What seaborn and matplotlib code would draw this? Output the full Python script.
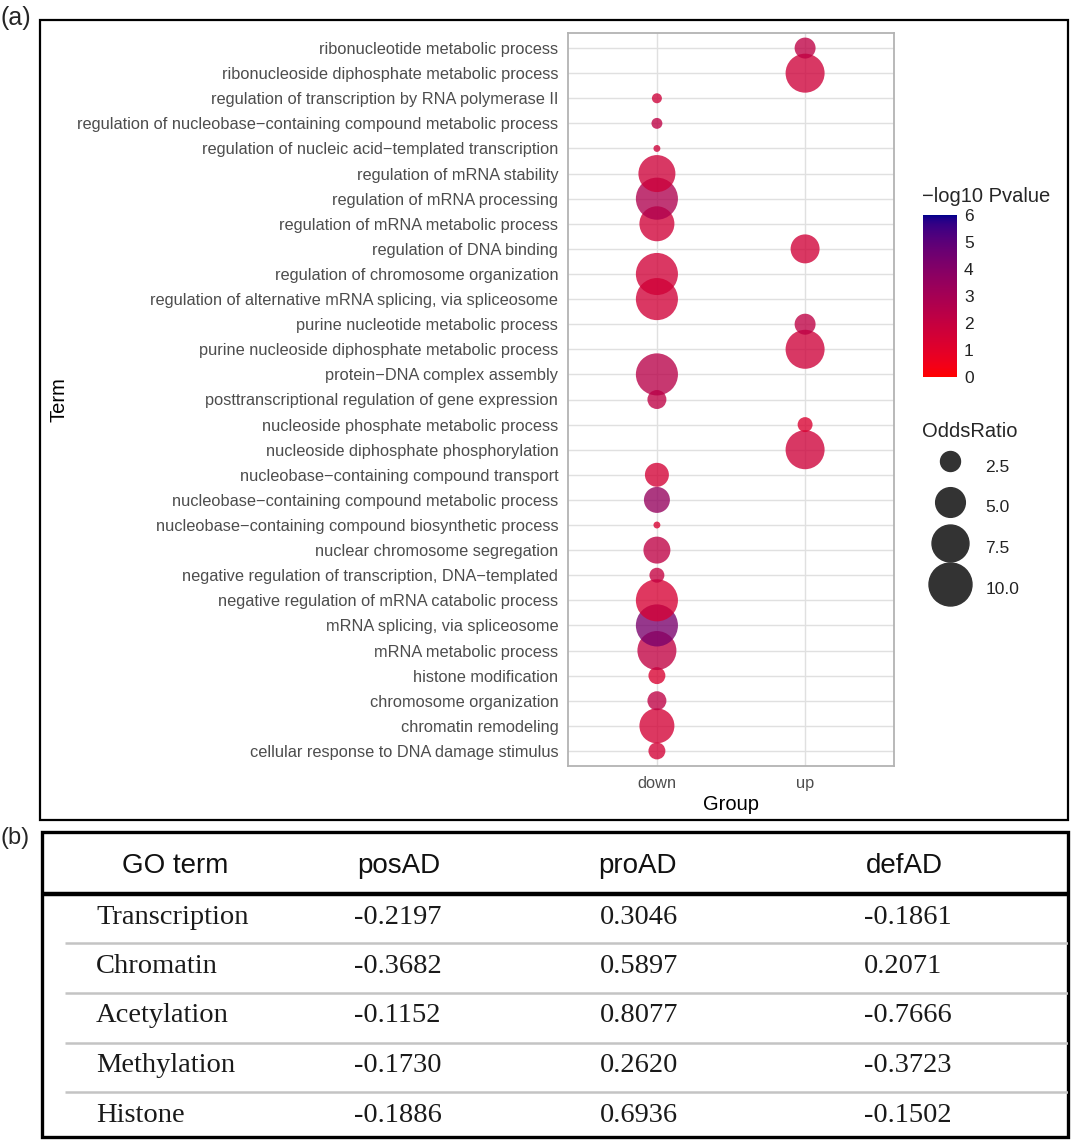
import numpy as np
import pandas as pd
import matplotlib
matplotlib.use("Agg")
import matplotlib.pyplot as plt
import matplotlib.colors as mcolors
from matplotlib.lines import Line2D
from matplotlib.patches import Rectangle
import seaborn as sns

# ---- data (panel a), listed bottom -> top ----
terms = [
    "cellular response to DNA damage stimulus",
    "chromatin remodeling",
    "chromosome organization",
    "histone modification",
    "mRNA metabolic process",
    "mRNA splicing, via spliceosome",
    "negative regulation of mRNA catabolic process",
    "negative regulation of transcription, DNA\u2212templated",
    "nuclear chromosome segregation",
    "nucleobase\u2212containing compound biosynthetic process",
    "nucleobase\u2212containing compound metabolic process",
    "nucleobase\u2212containing compound transport",
    "nucleoside diphosphate phosphorylation",
    "nucleoside phosphate metabolic process",
    "posttranscriptional regulation of gene expression",
    "protein\u2212DNA complex assembly",
    "purine nucleoside diphosphate metabolic process",
    "purine nucleotide metabolic process",
    "regulation of alternative mRNA splicing, via spliceosome",
    "regulation of chromosome organization",
    "regulation of DNA binding",
    "regulation of mRNA metabolic process",
    "regulation of mRNA processing",
    "regulation of mRNA stability",
    "regulation of nucleic acid\u2212templated transcription",
    "regulation of nucleobase\u2212containing compound metabolic process",
    "regulation of transcription by RNA polymerase II",
    "ribonucleoside diphosphate metabolic process",
    "ribonucleotide metabolic process",
]
groups = ["down", "down", "down", "down", "down", "down", "down", "down",
          "down", "down", "down", "down", "up", "up", "down", "down",
          "up", "up", "down", "down", "up", "down", "down", "down",
          "down", "down", "down", "up", "up"]
odds_ratio = [1.92, 6.77, 2.30, 1.92, 8.31, 9.60, 9.60, 1.59,
              4.20, 0.68, 3.93, 3.41, 8.31, 1.59, 2.30, 9.60,
              8.31, 2.71, 9.60, 9.60, 4.78, 6.77, 9.60, 7.52,
              0.68, 1.05, 0.95, 8.31, 2.71]
neg_log_p = [1.5, 1.5, 2.2, 1.3, 2.1, 4.3, 1.4, 2.0,
             2.2, 1.3, 3.5, 1.5, 1.7, 1.3, 2.2, 2.4,
             1.7, 2.2, 1.6, 1.6, 1.6, 1.6, 2.7, 1.7,
             1.7, 2.2, 1.7, 1.7, 2.2]

size_breaks = [2.5, 5.0, 7.5, 10.0]
color_ticks = [0, 1, 2, 3, 4, 5, 6]

# ---- data (panel b) ----
go_terms = ["Transcription", "Chromatin", "Acetylation", "Methylation", "Histone"]
pos_ad = ["-0.2197", "-0.3682", "-0.1152", "-0.1730", "-0.1886"]
pro_ad = ["0.3046", "0.5897", "0.8077", "0.2620", "0.6936"]
def_ad = ["-0.1861", "0.2071", "-0.7666", "-0.3723", "-0.1502"]
table_header = ["GO term", "posAD", "proAD", "defAD"]

df = pd.DataFrame({"Term": terms, "Group": groups,
                   "OddsRatio": odds_ratio, "logP": neg_log_p})

# ggplot style red -> darkblue gradient, interpolated in Lab
M = np.array([[0.4124, 0.3576, 0.1805],
              [0.2126, 0.7152, 0.0722],
              [0.0193, 0.1192, 0.9505]])
WHITE = np.array([0.95047, 1.0, 1.08883])


def to_lab(rgb):
    c = np.asarray(rgb, float)
    c = np.where(c > 0.04045, ((c + 0.055) / 1.055) ** 2.4, c / 12.92)
    xyz = M @ c / WHITE
    f = np.where(xyz > 0.008856, np.cbrt(xyz), 7.787 * xyz + 16 / 116)
    return np.array([116 * f[1] - 16, 500 * (f[0] - f[1]), 200 * (f[1] - f[2])])


def from_lab(lab):
    L, a, b = lab
    fy = (L + 16) / 116
    f = np.array([fy + a / 500, fy, fy - b / 200])
    xyz = np.where(f ** 3 > 0.008856, f ** 3, (f - 16 / 116) / 7.787) * WHITE
    c = np.linalg.inv(M) @ xyz
    c = np.clip(c, 0, None)
    c = np.where(c > 0.0031308, 1.055 * c ** (1 / 2.4) - 0.055, 12.92 * c)
    return np.clip(c, 0, 1)


lo, hi = to_lab(mcolors.to_rgb("red")), to_lab(mcolors.to_rgb("#00008B"))
cmap = mcolors.ListedColormap([from_lab(lo + t * (hi - lo)) for t in np.linspace(0, 1, 256)])
norm = mcolors.Normalize(0, 6)

# size scale: marker area (pt^2) linear in odds ratio, shared with the legend
AREA_PER_UNIT = (958.0 - 207.0) / 7.5
AREA_AT_2_5 = 207.0


def marker_area(v):
    return AREA_AT_2_5 + (v - 2.5) * AREA_PER_UNIT


size_norm = (0.6, 10.0)
size_range = (marker_area(size_norm[0]), marker_area(size_norm[1]))

sns.set_style("whitegrid")
plt.rcParams['font.family'] = ['Liberation Sans', 'DejaVu Sans']

W, H = 1072, 1140
fig = plt.figure(figsize=(W / 100, H / 100), dpi=100)


def fx(px):
    return px / W


def fy(py):
    return 1 - py / H


ax = fig.add_axes([fx(568), fy(766), fx(894) - fx(568), (766 - 33) / H])
sns.scatterplot(data=df, x="Group", y="Term", hue="logP", size="OddsRatio",
                palette=cmap, hue_norm=norm, sizes=size_range, size_norm=size_norm,
                alpha=0.78, linewidth=0, legend=False, ax=ax, zorder=3)
ax.set_xlim(-0.6, 1.6)
ax.set_ylim(-0.6, len(terms) - 0.4)
ax.set_facecolor("white")
for s in ax.spines.values():
    s.set_color("#B3B3B3")
    s.set_linewidth(1.3)
ax.grid(True, color="#E0E0E0", linewidth=1.0)
ax.set_axisbelow(True)
ax.tick_params(axis="both", length=4, width=1, color="#B3B3B3",
               labelcolor="#4D4D4D", labelsize=11.8, pad=3)
ax.set_xlabel("Group", fontsize=14.5, color="black", labelpad=3)
ax.set_ylabel("Term", fontsize=14.5, color="black", labelpad=6)

# colour bar
cax = fig.add_axes([fx(923), fy(377), fx(957) - fx(923), (377 - 215) / H])
sm = plt.cm.ScalarMappable(cmap=cmap, norm=norm)
cb = fig.colorbar(sm, cax=cax, ticks=color_ticks)
cb.outline.set_visible(False)
cax.tick_params(axis="y", direction="in", length=6, width=1, color="white",
                left=True, right=True, labelleft=False, labelright=True,
                labelsize=12.5, labelcolor="#222222", pad=5)
fig.text(fx(922), fy(197), "\u2212log10 Pvalue", ha="left", va="center", fontsize=14.5)

# size legend
handles = [Line2D([], [], marker="o", linestyle="", color="#333333",
                  markersize=np.sqrt(marker_area(v))) for v in size_breaks]
leg = fig.legend(handles, [f"{v:.1f}" for v in size_breaks], title="OddsRatio",
                 loc="upper left", bbox_to_anchor=(fx(915), fy(415)),
                 frameon=False, fontsize=12.5, title_fontsize=14.5,
                 handlelength=3.2, handleheight=2.4, handletextpad=0.45,
                 labelspacing=0.55, borderaxespad=0, alignment="left")
for t in leg.get_texts():
    t.set_color("#222222")

# panel frame and labels
fig.add_artist(Rectangle((fx(40), fy(820)), fx(1068) - fx(40), (820 - 20) / H,
                         transform=fig.transFigure, fill=False, ec="black", lw=1.6))
fig.text(fx(1), fy(18), "(a)", ha="left", va="center", fontsize=18)
fig.text(fx(0), fy(838), "(b)", ha="left", va="center", fontsize=17)

# ---- panel b: table ----
tax = fig.add_axes([fx(42), fy(1137), fx(1068) - fx(42), (1137 - 832) / H])
tax.set_xlim(0, 1026)
tax.set_ylim(305, 0)
tax.axis("off")
tax.add_patch(Rectangle((0, 0), 1026, 305, fill=False, ec="black", lw=2.4, clip_on=False))
tax.plot([0, 1026], [62, 62], color="black", lw=3.2, solid_capstyle="butt")
for i in range(len(go_terms) - 1):
    yy = 111 + i * 49.8
    tax.plot([23, 1026], [yy, yy], color="#C4C4C4", lw=1.8, solid_capstyle="butt")

head_x = [133, 357, 595, 862]
for x, h in zip(head_x, table_header):
    tax.text(x, 34, h, ha="center", va="center", fontsize=20, color="#111111")

col_x = [54, 312, 558, 822]
for i in range(len(go_terms)):
    yy = 85 + i * 49.5
    row = [go_terms[i], pos_ad[i], pro_ad[i], def_ad[i]]
    for x, val in zip(col_x, row):
        tax.text(x, yy, val, ha="left", va="center", fontsize=20.5,
                 family=["Liberation Serif", "DejaVu Serif"], color="#1a1a1a")

fig.savefig("out.png", dpi=100)
